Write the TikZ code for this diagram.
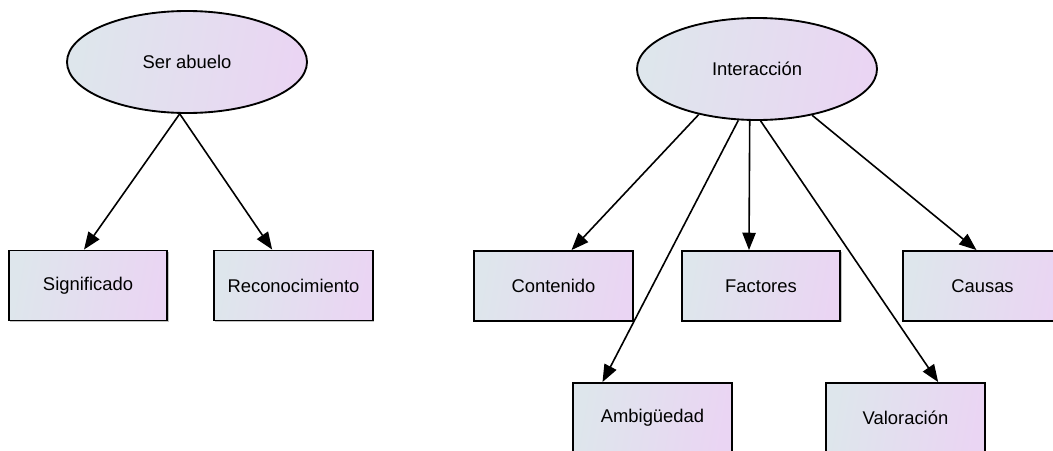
\documentclass[tikz,border=0pt]{standalone}
\usepackage{fontspec}
\setmainfont{Liberation Sans}
\usetikzlibrary{shapes.geometric,arrows.meta,shadows}

\definecolor{shadeL}{RGB}{222,230,236}
\definecolor{shadeR}{RGB}{234,213,243}

\tikzset{
  topic/.style={ellipse, draw=black, line width=1.4pt, inner sep=0pt,
    minimum width=180pt, minimum height=76.5pt,
    left color=shadeL, right color=shadeR, shading angle=80},
  leaf/.style={rectangle, draw=black, line width=1.4pt, inner sep=0pt,
    minimum width=119pt, minimum height=52.5pt,
    left color=shadeL, right color=shadeR, shading angle=80,
    drop shadow={shadow xshift=0.9pt, shadow yshift=-0.9pt, fill=black!40, opacity=0.6}},
  link/.style={line width=1.2pt, -{Triangle[length=13pt,width=10pt]}},
  every node/.style={font=\fontsize{13.8}{16}\selectfont}
}

\begin{document}
\begin{tikzpicture}[x=0.75pt, y=-0.75pt]
  \clip (0,0) rectangle (1053,450);

  % left tree
  \node[topic] (sa) at (187,62) {Ser abuelo};
  \node[leaf] (sig) at (88,285.5) {Significado};
  \node[leaf] (rec) at (293.5,285.5) {Reconocimiento};

  % right tree
  \node[topic] (it) at (757,69) {Interacción};
  \node[leaf] (con) at (553.5,286) {Contenido};
  \node[leaf] (fac) at (761,286) {Factores};
  \node[leaf] (cau) at (982.5,286) {Causas};
  \node[leaf] (amb) at (652.5,418) {Ambigüedad};
  \node[leaf] (val) at (905.5,418) {Valoración};

  % connectors
  \draw[link] (sa.-98) -- ([xshift=-3]sig.north);
  \draw[link] (sa.-98) -- ([xshift=-16]rec.north);

  \draw[link] (it.-142.7) -- ([xshift=13.5]con.north);
  \draw[link] (it.-110.8) -- ([xshift=-37.5]amb.north);
  \draw[link] (it.-98.9)  -- ([xshift=-9]fac.north);
  \draw[link] (it.-86.6)  -- ([xshift=24.5]val.north);
  \draw[link] (it.-40.3)  -- ([xshift=-4.5]cau.north);
\end{tikzpicture}
\end{document}
